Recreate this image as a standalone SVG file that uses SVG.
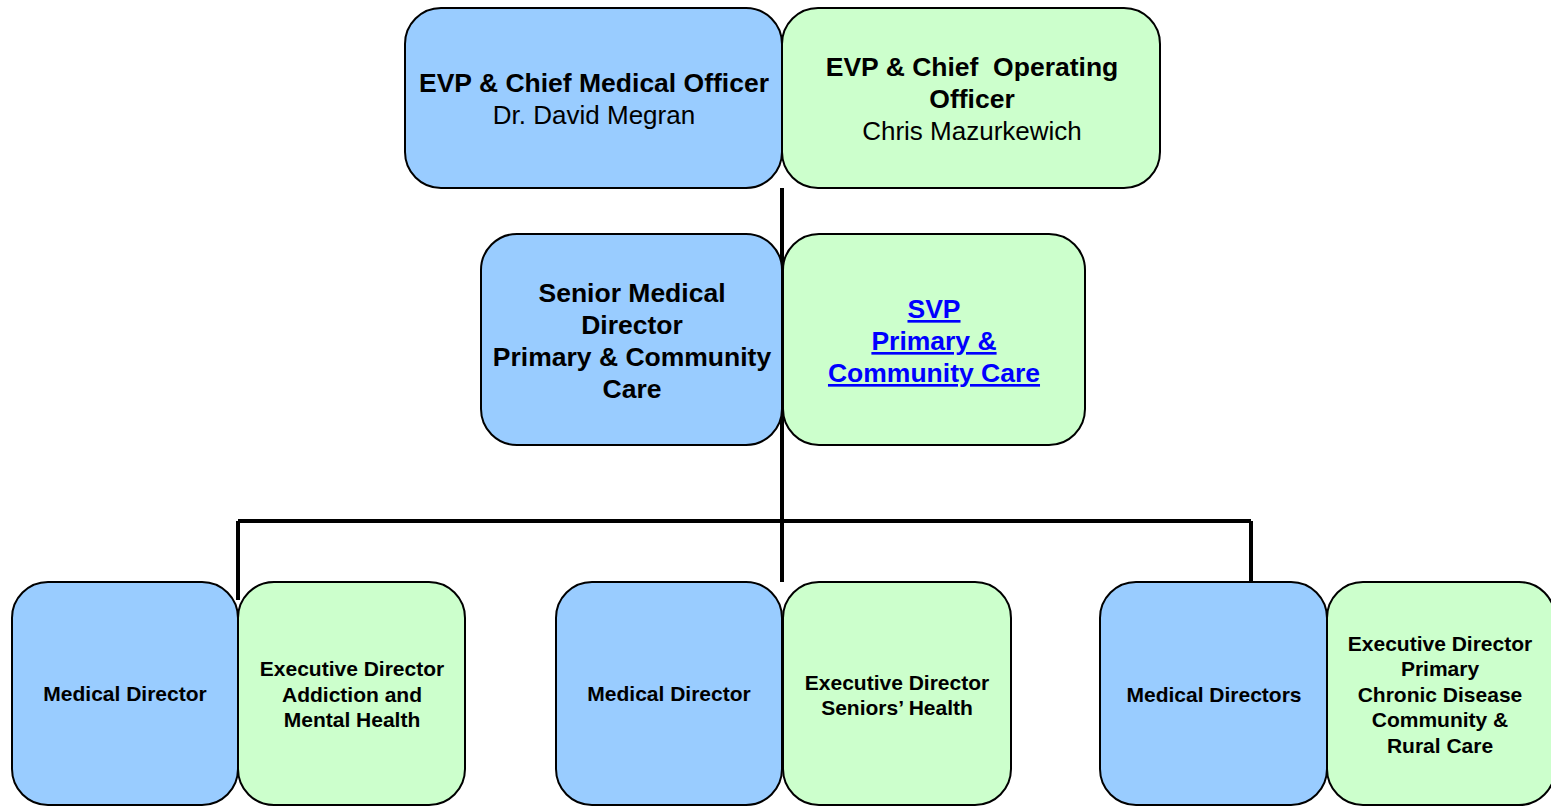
<svg xmlns="http://www.w3.org/2000/svg" width="1551" height="806" viewBox="0 0 1551 806">
<style>
.blue{fill:#99CCFF;stroke:#000;stroke-width:2}
.green{fill:#CCFFCC;stroke:#000;stroke-width:2}
.conn{fill:none;stroke:#000;stroke-width:4}
text{font-family:"Liberation Sans",Arial,sans-serif;text-anchor:middle;fill:#000}
.t24b{font-size:26.5px;font-weight:bold}
.t24{font-size:26px}
.t20b{font-size:21px;font-weight:bold}
.link{fill:#0000FF;text-decoration:underline}
</style>
<rect width="1551" height="806" fill="#fff"/>
<g id="connectors">
<path class="conn" d="M782,188 V582"/>
<path class="conn" d="M238,521 H1251"/>
<path class="conn" d="M238,521 V600"/>
<path class="conn" d="M1251,521 V582"/>
</g>
<g id="cmo">
<rect class="blue" x="405" y="8" width="377" height="180" rx="36"/>
<text class="t24b" x="594" y="92">EVP &amp; Chief Medical Officer</text>
<text class="t24" x="594" y="124">Dr. David Megran</text>
</g>
<g id="coo">
<rect class="green" x="782" y="8" width="378" height="180" rx="36"/>
<text class="t24b" x="972" y="76" xml:space="preserve">EVP &amp; Chief  Operating</text>
<text class="t24b" x="972" y="108">Officer</text>
<text class="t24" x="972" y="140">Chris Mazurkewich</text>
</g>
<g id="smd">
<rect class="blue" x="481" y="234" width="301" height="211" rx="36"/>
<text class="t24b" x="632" y="302">Senior Medical</text>
<text class="t24b" x="632" y="334">Director</text>
<text class="t24b" x="632" y="366">Primary &amp; Community</text>
<text class="t24b" x="632" y="398">Care</text>
</g>
<g id="svp">
<rect class="green" x="783" y="234" width="302" height="211" rx="36"/>
<text class="t24b link" x="934" y="318">SVP</text>
<text class="t24b link" x="934" y="350">Primary &amp;</text>
<text class="t24b link" x="934" y="382">Community Care</text>
</g>
<g id="md1">
<rect class="blue" x="12" y="582" width="226" height="223" rx="36"/>
<text class="t20b" x="125" y="701">Medical Director</text>
</g>
<g id="ed-amh">
<rect class="green" x="238" y="582" width="227" height="223" rx="36"/>
<text class="t20b" x="352" y="676">Executive Director</text>
<text class="t20b" x="352" y="702">Addiction and</text>
<text class="t20b" x="352" y="727">Mental Health</text>
</g>
<g id="md2">
<rect class="blue" x="556" y="582" width="226" height="223" rx="36"/>
<text class="t20b" x="669" y="701">Medical Director</text>
</g>
<g id="ed-seniors">
<rect class="green" x="783" y="582" width="228" height="223" rx="36"/>
<text class="t20b" x="897" y="690">Executive Director</text>
<text class="t20b" x="897" y="715">Seniors’ Health</text>
</g>
<g id="md3">
<rect class="blue" x="1100" y="582" width="227" height="223" rx="36"/>
<text class="t20b" x="1214" y="702">Medical Directors</text>
</g>
<g id="ed-primary">
<rect class="green" x="1327" y="582" width="228" height="223" rx="36"/>
<text class="t20b" x="1440" y="651">Executive Director</text>
<text class="t20b" x="1440" y="676">Primary</text>
<text class="t20b" x="1440" y="702">Chronic Disease</text>
<text class="t20b" x="1440" y="727">Community &amp;</text>
<text class="t20b" x="1440" y="753">Rural Care</text>
</g>
</svg>
